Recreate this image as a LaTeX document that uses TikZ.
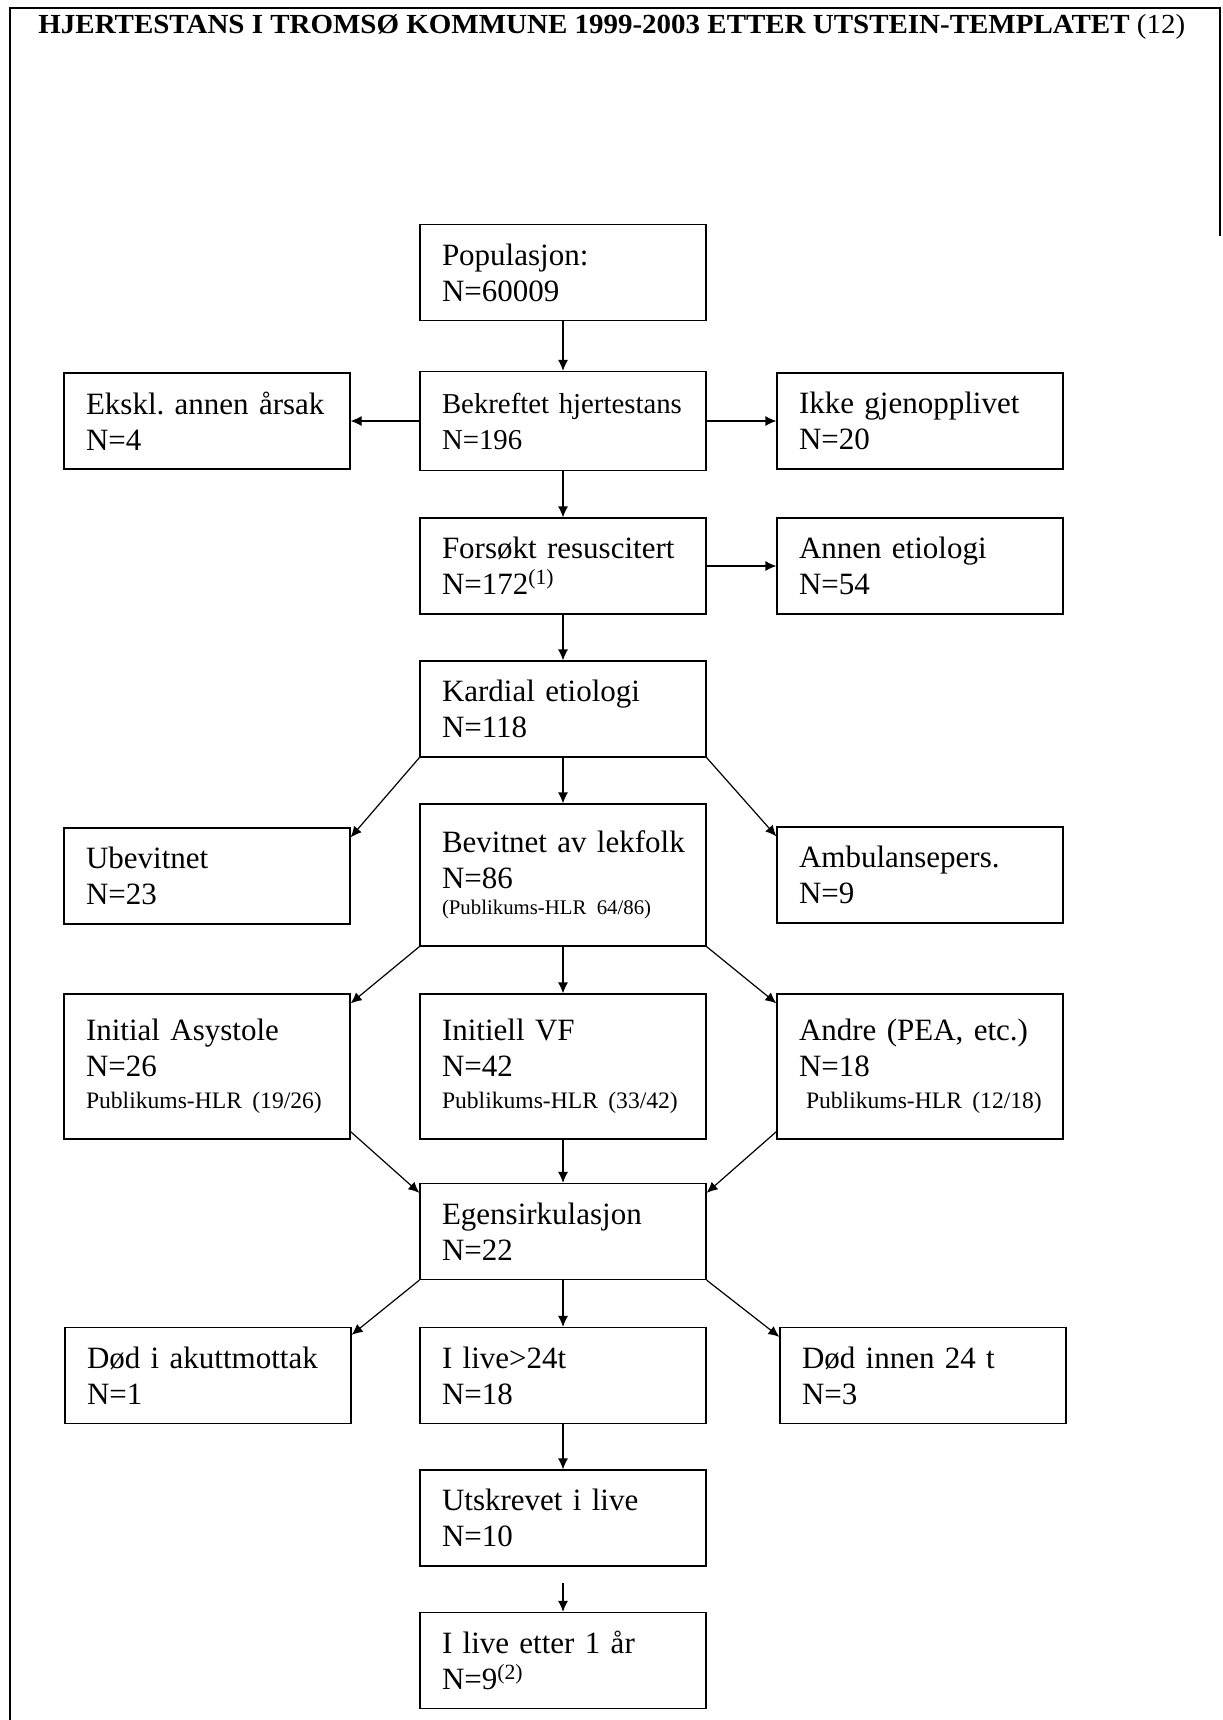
\documentclass[tikz,border=0pt]{standalone}
\usepackage{fontspec}
\setmainfont{Liberation Serif}
\newfontfamily\titfont{Liberation Serif}[FakeStretch=1.05]
\usetikzlibrary{arrows.meta}
\tikzset{
	boks/.style={draw, line width=0.6pt, inner xsep=0pt, inner ysep=0pt, text width=143pt, minimum height=48pt, align=left, font=\fontsize{15.5}{18}\selectfont, execute at begin node={\leftskip=11pt\frenchspacing}},
	pil/.style={-{Latex[length=5.5pt,width=5pt]}, line width=0.6pt},
}
\newcommand{\litentekst}[1]{{\fontsize{10.4}{12}\selectfont #1}}
\newcommand{\hlrtekst}[1]{{\fontsize{11.8}{13}\selectfont #1}}

\begin{document}
\begin{tikzpicture}[x=0.5pt, y=-0.5pt]
		\useasboundingbox (0,0) rectangle (1222,1720);
		\draw[line width=0.6pt] (10,1720) -- (10,8) -- (1220,8) -- (1220,236);
		\node[anchor=base west, inner sep=0pt, font=\titfont\bfseries\fontsize{13.8}{16}\selectfont] (tittel) at (38,33) {HJERTESTANS I TROMSØ KOMMUNE 1999-2003 ETTER UTSTEIN-TEMPLATET {\mdseries(12)}};
		\node[boks] (pop) at (563,272.5) {Populasjon:\\N=60009};
		\node[boks, minimum height=49.5pt, font=\fontsize{14.4}{18}\selectfont] (bekr) at (563,421) {Bekreftet hjertestans\\N=196};
		\node[boks] (ekskl) at (207,421) {Ekskl. annen årsak\\N=4};
		\node[boks] (ikke) at (920,421) {Ikke gjenopplivet\\N=20};
		\node[boks] (forsok) at (563,566) {Forsøkt resuscitert\\N=172\textsuperscript{(1)}};
		\node[boks] (annen) at (920,566) {Annen etiologi\\N=54};
		\node[boks] (kard) at (563,709) {Kardial etiologi\\N=118};
		\node[boks] (ubev) at (207,876) {Ubevitnet\\N=23};
		\node[boks, minimum height=71pt] (bevit) at (563,875) {Bevitnet av lekfolk\\N=86\\[-5pt]\litentekst{(Publikums-HLR 64/86)}};
		\node[boks] (amb) at (920,875) {Ambulansepers.\\N=9};
		\node[boks, minimum height=72.5pt] (asys) at (207,1066.5) {Initial Asystole\\N=26\\[-2pt]\hlrtekst{Publikums-HLR (19/26)}};
		\node[boks, minimum height=72.5pt] (vf) at (563,1066.5) {Initiell VF\\N=42\\[-2pt]\hlrtekst{Publikums-HLR (33/42)}};
		\node[boks, minimum height=72.5pt] (andre) at (920,1066.5) {Andre (PEA, etc.)\\N=18\\[-2pt]\hspace*{3.5pt}\hlrtekst{Publikums-HLR (12/18)}};
		\node[boks] (egen) at (563,1231.5) {Egensirkulasjon\\N=22};
		\node[boks] (dodak) at (208,1375.5) {Død i akuttmottak\\N=1};
		\node[boks] (live) at (563,1375.5) {I live>24t\\N=18};
		\node[boks] (dodinn) at (923,1375.5) {Død innen 24 t\\N=3};
		\node[boks] (utskr) at (563,1518) {Utskrevet i live\\N=10};
		\node[boks] (aar) at (563,1660.5) {I live etter 1 år\\N=9\textsuperscript{(2)}};
		\draw[pil] (pop) -- (bekr);
		\draw[pil] (bekr) -- (ekskl);
		\draw[pil] (bekr) -- (ikke);
		\draw[pil] (bekr) -- (forsok);
		\draw[pil] (forsok) -- (annen);
		\draw[pil] (forsok) -- (kard);
		\draw[pil] (kard) -- (bevit);
		\draw[pil] (kard.south west) -- ([yshift=-5pt]ubev.north east);
		\draw[pil] (kard.south east) -- ([yshift=-5pt]amb.north west);
		\draw[pil] (bevit) -- (vf);
		\draw[pil] (bevit.south west) -- ([yshift=-5pt]asys.north east);
		\draw[pil] (bevit.south east) -- ([yshift=-5pt]andre.north west);
		\draw[pil] (vf) -- (egen);
		\draw[pil] ([yshift=4pt]asys.south east) -- ([yshift=-5pt]egen.north west);
		\draw[pil] ([yshift=4pt]andre.south west) -- ([yshift=-5pt]egen.north east);
		\draw[pil] (egen) -- (live);
		\draw[pil] (egen.south west) -- ([yshift=-4pt]dodak.north east);
		\draw[pil] (egen.south east) -- ([yshift=-5pt]dodinn.north west);
		\draw[pil] (live) -- (utskr);
		\draw[pil, shorten <=8pt] (utskr) -- (aar);
	\end{tikzpicture}
\end{document}
